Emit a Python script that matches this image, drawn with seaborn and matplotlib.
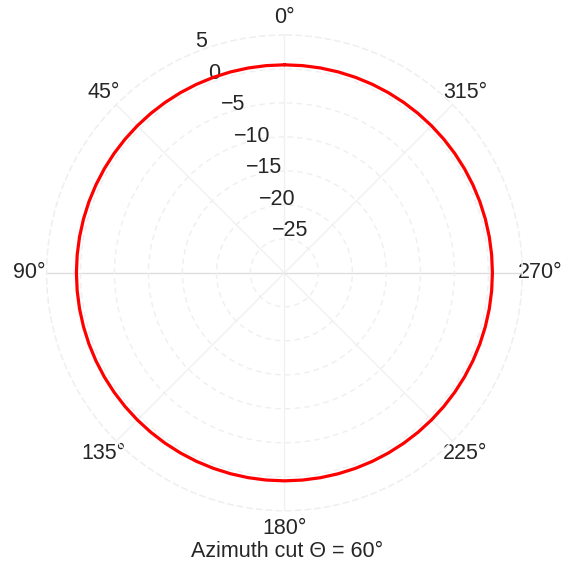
import numpy as np
import matplotlib
matplotlib.use("Agg")
import matplotlib.pyplot as plt
import seaborn as sns

# azimuth cut at theta = 60 deg, gain in dB (reads flat at about +0.6 dB)
azimuth_deg = np.arange(0, 361, 5)
gain_db = np.full(len(azimuth_deg), 0.6)

theta_ticks = [0, 45, 90, 135, 180, 225, 270, 315]
theta_labels = [f"{t}°" for t in theta_ticks]
r_ticks = [5, 0, -5, -10, -15, -20, -25]
r_labels = ["5", "0", "\u22125", "\u221210", "\u221215", "\u221220", "\u221225"]
title = "Azimuth cut \u0398 = 60°"

sns.set_theme(style="white")
plt.rcParams["font.family"] = ["Liberation Sans", "DejaVu Sans"]

fig = plt.figure(figsize=(5.74, 5.69), dpi=100)
ax = fig.add_axes([0.081, 0.102, 0.829, 0.837], projection="polar")
ax.set_theta_zero_location("N")
ax.set_theta_direction(1)

sns.lineplot(x=np.deg2rad(azimuth_deg), y=gain_db, ax=ax, color="#ff0000",
             linewidth=2.3, sort=False, estimator=None)

ax.set_ylim(-30, 5)
ax.set_thetagrids(theta_ticks, theta_labels, fontsize=15.5, color="#262626")
ax.set_yticks(r_ticks)
ax.set_yticklabels(r_labels, fontsize=15.5, color="#262626", ha="left", va="bottom")
ax.set_rlabel_position(22)
ax.tick_params(axis="x", pad=-0.5)
ax.tick_params(axis="y", pad=0)
ax.set_xlabel("")
ax.set_ylabel("")

ax.grid(True)
for gl in ax.yaxis.get_gridlines():
    gl.set_color("#efefef")
    gl.set_linestyle((0, (4, 3)))
    gl.set_linewidth(1.0)
for t, gl in zip(theta_ticks, ax.xaxis.get_gridlines()):
    gl.set_color("#dedede" if t in (90, 270) else "#f1f1f1")
    gl.set_linewidth(1.0)
ax.spines["polar"].set_color("#efefef")
ax.spines["polar"].set_linestyle((0, (4, 3)))
ax.spines["polar"].set_linewidth(1.0)

fig.text(0.5, 0.0316, title, ha="center", va="center", fontsize=15.5, color="#262626")

fig.savefig("out.png", dpi=100)
